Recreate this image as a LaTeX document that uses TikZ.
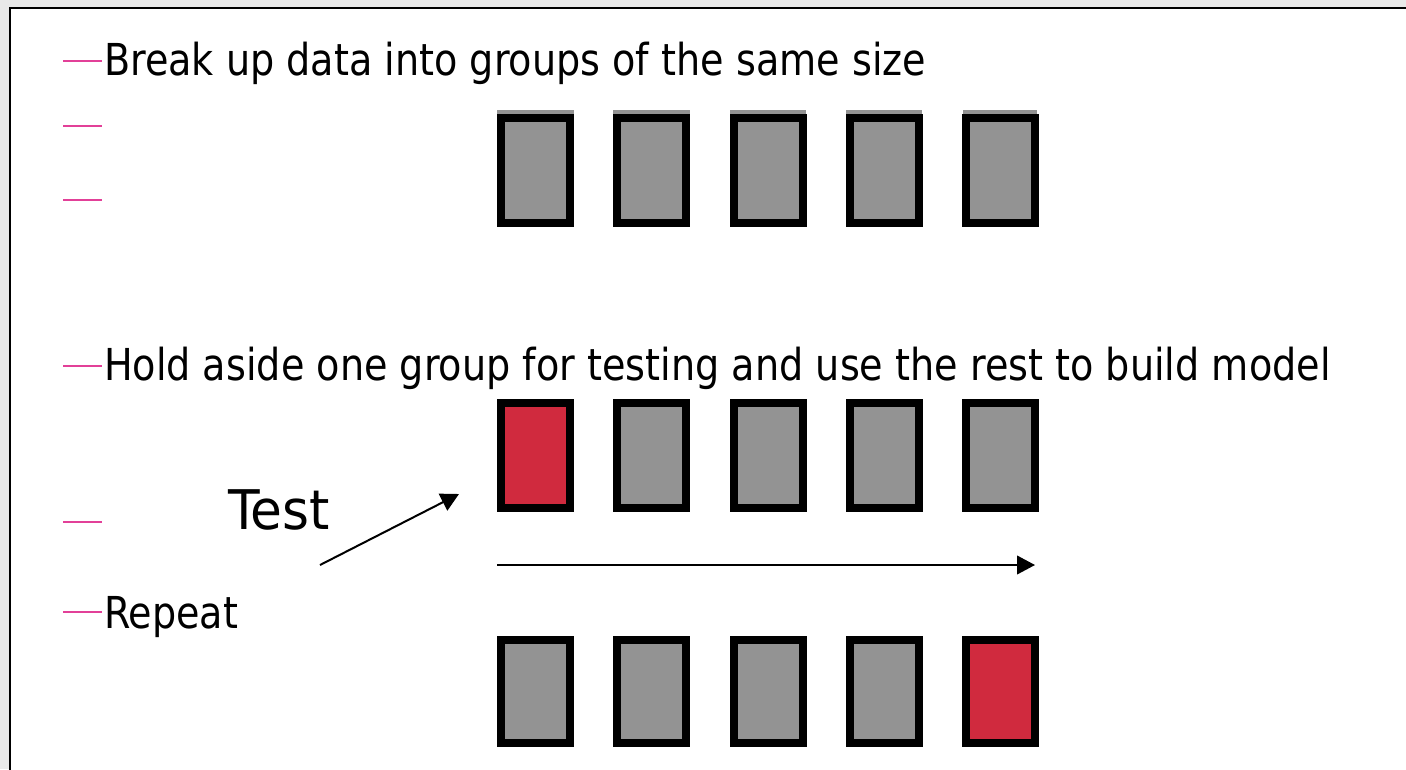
\documentclass[tikz,border=0pt]{standalone}
\usepackage{fontspec}
\usepackage{graphicx}
\setmainfont{DejaVu Sans}
\usetikzlibrary{arrows.meta}
\definecolor{pinkdash}{RGB}{226,64,152}
\definecolor{boxgray}{RGB}{147,147,147}
\definecolor{boxred}{RGB}{208,42,62}
\definecolor{bggray}{RGB}{233,233,233}
\newcommand\fitw[2]{\resizebox{#1}{\height}{#2}}
\begin{document}
\begin{tikzpicture}[x=0.75pt,y=-0.75pt,
  grp/.style={draw=black, line width=6pt, fill=boxgray, minimum width=51.75pt,
    minimum height=78.75pt, inner sep=0pt, outer sep=0pt},
  testgrp/.style={grp, fill=boxred},
  lbl/.style={anchor=base west, inner sep=0pt, outer sep=0pt,
    font=\fontsize{33pt}{40pt}\selectfont},
  biglbl/.style={anchor=base west, inner sep=0pt, outer sep=0pt,
    font=\fontsize{41pt}{48pt}\selectfont},
  bullet/.style={draw=pinkdash, line width=2.2pt},
  arr/.style={draw=black, line width=1.5pt, -{Triangle[length=13.5pt,width=14pt]}}
]
\useasboundingbox (0,0) rectangle (1406,769);
\clip (0,0) rectangle (1406,769);
% background and frame
\fill[bggray] (0,0) rectangle (1406,769);
\fill[white] (10,8) rectangle (1430,800);
\draw[line width=1.5pt] (10,800) -- (10,8) -- (1430,8);

% bullets
\foreach \yy in {61,126,200,366,522,612}
  \draw[bullet] (63,\yy) -- (102,\yy);

% texts
\node[lbl] (t1) at (104,75) {\fitw{616.5pt}{Break up data into groups of the same size}};
\node[lbl] (t2) at (104,380) {\fitw{920pt}{Hold aside one group for testing and use the rest to build model}};
\node[lbl] (t3) at (104,628) {\fitw{100.5pt}{Repeat}};
\node[biglbl] (test) at (228,529) {\fitw{76.5pt}{Test}};

% row 1 (with small fill strip above)
\fill[boxgray] (497,110) rectangle (574,118);
\fill[boxgray] (613,110) rectangle (690,118);
\fill[boxgray] (730,110) rectangle (806,118);
\fill[boxgray] (846,110) rectangle (922,118);
\fill[boxgray] (963,110) rectangle (1037,118);
\node[grp] (a1) at (535.5,170) {};
\node[grp] (a2) at (651.5,170) {};
\node[grp] (a3) at (768,170) {};
\node[grp] (a4) at (884,170) {};
\node[grp] (a5) at (1000,170) {};

% row 2
\node[testgrp] (b1) at (535.5,455) {};
\node[grp] (b2) at (651.5,455) {};
\node[grp] (b3) at (768,455) {};
\node[grp] (b4) at (884,455) {};
\node[grp] (b5) at (1000,455) {};

% row 3
\node[grp, minimum height=77.25pt] (c1) at (535.5,691.5) {};
\node[grp, minimum height=77.25pt] (c2) at (651.5,691.5) {};
\node[grp, minimum height=77.25pt] (c3) at (768,691.5) {};
\node[grp, minimum height=77.25pt] (c4) at (884,691.5) {};
\node[testgrp, minimum height=77.25pt] (c5) at (1000,691.5) {};

% arrows
\coordinate (ha) at (497,565);
\coordinate (hb) at (1035,565);
\draw[arr] (ha) -- (hb);
\coordinate (ta) at (320,565);
\coordinate (tb) at (459,494);
\draw[arr] (ta) -- (tb);
\end{tikzpicture}
\end{document}
